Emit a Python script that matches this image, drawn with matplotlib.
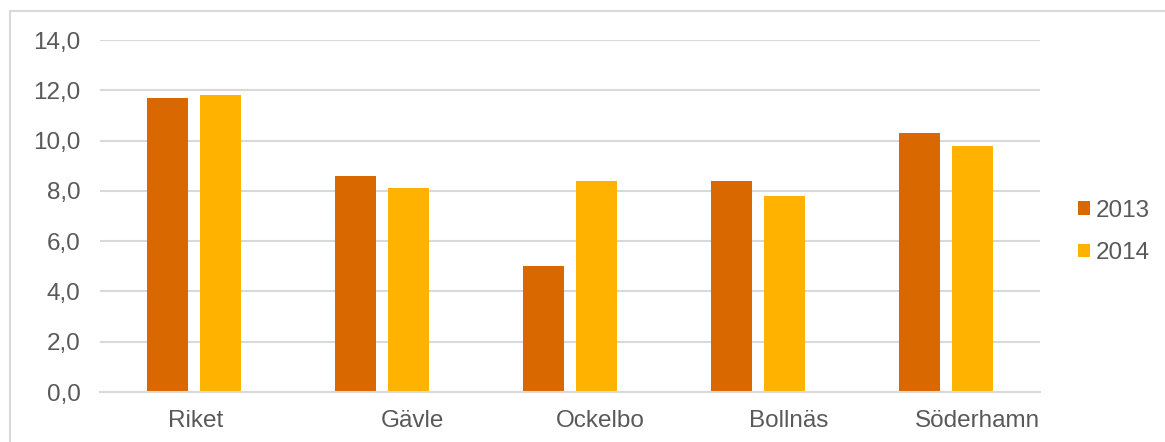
import matplotlib.pyplot as plt
import numpy as np
from matplotlib.patches import Rectangle

# data
kommuner = ['Riket', 'Gävle', 'Ockelbo', 'Bollnäs', 'Söderhamn']
v2013 = [11.7, 8.6, 5.0, 8.4, 10.3]
v2014 = [11.8, 8.1, 8.4, 7.8, 9.8]
yticks = [0, 2, 4, 6, 8, 10, 12, 14]

plt.rcParams['font.family'] = ['Liberation Sans', 'DejaVu Sans']
grey = '#595959'
gridc = '#D9D9D9'
fs = 17.5

W, H = 1165, 442
fig = plt.figure(figsize=(W / 100, H / 100), dpi=100)

# outer chart frame (runs off right and bottom edges)
fig.patches.append(Rectangle((10 / W, -0.1), 1.2, 1 - 11 / H + 0.1,
                             transform=fig.transFigure, fill=False,
                             edgecolor=gridc, linewidth=1.5))

ax = fig.add_axes([100 / W, 50 / H, 940 / W, 352 / H])
x = np.arange(len(kommuner))
w = 0.223
gap = 0.059
ax.bar(x - (w + gap) / 2, v2013, w, color='#DA6800', label='2013')
ax.bar(x + (w + gap) / 2, v2014, w, color='#FFB300', label='2014')

ax.set_xlim(-0.5, len(kommuner) - 0.5)
ax.set_ylim(0, 14)
ax.set_yticks(yticks)
ax.yaxis.set_major_formatter(plt.FuncFormatter(lambda v, p: ('%.1f' % v).replace('.', ',')))

# category labels in the original sit a bit right of their bars (px -> data units)
shifts_px = np.array([2, 30, 30, 31, 31])
ax.set_xticks(x + shifts_px / 188.0)
ax.set_xticklabels(kommuner)

ax.grid(axis='y', color=gridc, linewidth=1.5)
ax.set_axisbelow(True)
for s in ['top', 'right', 'left']:
    ax.spines[s].set_visible(False)
ax.spines['bottom'].set_color(gridc)
ax.spines['bottom'].set_linewidth(1.5)
ax.tick_params(axis='both', length=0, labelsize=fs, colors=grey)
ax.tick_params(axis='y', pad=14)
ax.tick_params(axis='x', pad=13)

leg = ax.legend(loc='center left', bbox_to_anchor=(1.03, 0.455),
                frameon=False, fontsize=fs, handlelength=0.5, handleheight=0.5,
                handletextpad=0.25, labelspacing=0.85, borderaxespad=0)
for t in leg.get_texts():
    t.set_color(grey)

fig.savefig('out.png', dpi=100)
